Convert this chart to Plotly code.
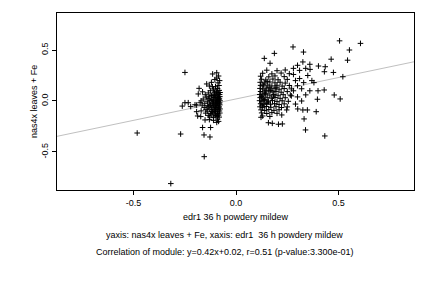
import plotly.graph_objects as go

# ---- data ----
left_sparse = [(-0.482,-0.314),(-0.318,-0.81),(-0.27,-0.324),(-0.249,0.28),(-0.262,-0.05),(-0.249,-0.017),
    (-0.233,-0.017),(-0.221,-0.055),(-0.155,-0.546),(-0.156,-0.333),(-0.127,-0.353),(-0.163,-0.26),
    (-0.124,-0.26),(-0.151,-0.186),(-0.172,-0.153),(-0.187,-0.147),(-0.192,-0.105),(-0.192,-0.04),
    (-0.163,0.09),(-0.184,0.069),(-0.18,0.124),(-0.143,0.167),(-0.115,0.14),(-0.1,0.14),(-0.103,0.21),
    (-0.094,0.225),(-0.114,0.265),(-0.094,0.277),(-0.094,-0.21),(-0.11,-0.19),(-0.085,-0.2)]

left_core = [(-0.09,0.123),(-0.11,0.118),
    (-0.082,0.104),(-0.097,0.097),(-0.125,0.101),
    (-0.078,0.083),(-0.088,0.077),(-0.105,0.086),(-0.135,0.079),
    (-0.08,0.063),(-0.093,0.057),(-0.112,0.066),(-0.12,0.054),(-0.15,0.061),
    (-0.079,0.043),(-0.086,0.036),(-0.099,0.047),(-0.108,0.034),(-0.128,0.041),(-0.145,0.038),
    (-0.081,0.022),(-0.09,0.016),(-0.102,0.027),(-0.117,0.014),(-0.133,0.023),(-0.16,0.019),
    (-0.078,0.002),(-0.087,-0.004),(-0.096,0.006),(-0.11,-0.003),(-0.122,0.004),(-0.14,-0.002),(-0.17,0.001),
    (-0.08,-0.018),(-0.092,-0.024),(-0.101,-0.016),(-0.115,-0.023),(-0.13,-0.019),(-0.152,-0.022),(-0.175,-0.017),
    (-0.079,-0.038),(-0.089,-0.044),(-0.098,-0.036),(-0.109,-0.043),(-0.124,-0.039),(-0.138,-0.046),(-0.165,-0.041),(-0.2,-0.037),
    (-0.082,-0.058),(-0.094,-0.064),(-0.106,-0.056),(-0.119,-0.062),(-0.135,-0.057),(-0.155,-0.063),
    (-0.078,-0.078),(-0.088,-0.084),(-0.1,-0.077),(-0.113,-0.083),(-0.128,-0.079),(-0.146,-0.082),
    (-0.081,-0.098),(-0.092,-0.104),(-0.104,-0.096),(-0.12,-0.103),(-0.14,-0.099),(-0.17,-0.097),
    (-0.079,-0.118),(-0.09,-0.124),(-0.107,-0.117),(-0.125,-0.122),(-0.148,-0.119),
    (-0.085,-0.138),(-0.098,-0.143),(-0.118,-0.137),(-0.135,-0.141),
    (-0.082,-0.158),(-0.11,-0.163),(-0.128,-0.157),
    (-0.09,-0.178),(-0.13,-0.183),
    (-0.083,0.152),(-0.13,0.147),(-0.088,0.178),(-0.12,0.183),(-0.08,0.2),(-0.085,0.245),
    (-0.084,0.013),(-0.095,-0.009),(-0.083,-0.028),(-0.085,-0.068),(-0.087,0.068),(-0.096,0.088),
    (-0.1,-0.128),(-0.093,-0.151),(-0.106,0.052),(-0.114,-0.109)]

right_core = [(0.15,0.302),(0.2,0.297),(0.24,0.304),
    (0.13,0.272),(0.175,0.266),(0.22,0.274),(0.26,0.268),
    (0.12,0.243),(0.16,0.237),(0.19,0.246),(0.235,0.239),
    (0.125,0.213),(0.145,0.206),(0.18,0.215),(0.205,0.208),(0.25,0.212),
    (0.118,0.183),(0.14,0.177),(0.165,0.186),(0.19,0.178),(0.215,0.184),(0.24,0.176),
    (0.12,0.153),(0.135,0.147),(0.155,0.156),(0.175,0.148),(0.2,0.154),(0.225,0.146),(0.26,0.152),
    (0.117,0.123),(0.13,0.117),(0.15,0.126),(0.17,0.118),(0.19,0.124),(0.21,0.116),(0.235,0.122),(0.27,0.119),
    (0.12,0.093),(0.138,0.087),(0.16,0.096),(0.18,0.088),(0.195,0.094),(0.22,0.086),(0.25,0.092),
    (0.116,0.063),(0.128,0.057),(0.145,0.066),(0.165,0.058),(0.185,0.064),(0.205,0.056),(0.23,0.062),(0.265,0.058),
    (0.118,0.033),(0.133,0.027),(0.152,0.036),(0.172,0.028),(0.19,0.034),(0.215,0.026),(0.24,0.032),
    (0.115,0.003),(0.126,-0.003),(0.14,0.006),(0.158,-0.002),(0.178,0.004),(0.2,-0.004),(0.225,0.002),(0.255,-0.003),
    (0.12,-0.027),(0.135,-0.033),(0.15,-0.024),(0.168,-0.032),(0.188,-0.026),(0.21,-0.034),(0.235,-0.028),
    (0.117,-0.057),(0.13,-0.063),(0.148,-0.054),(0.17,-0.062),(0.195,-0.056),(0.222,-0.064),(0.25,-0.058),
    (0.122,-0.087),(0.14,-0.093),(0.16,-0.084),(0.185,-0.092),(0.21,-0.086),
    (0.125,-0.117),(0.15,-0.123),(0.175,-0.114),(0.2,-0.121),
    (0.13,-0.147),(0.165,-0.152),
    (0.125,0.045),(0.142,0.075),(0.137,0.015),(0.155,-0.012),(0.128,-0.042),(0.145,0.105),
    (0.162,0.135),(0.183,0.048),(0.17,0.102),(0.195,0.135),(0.132,0.165),(0.152,0.192)]

right_sparse = [(0.505,0.59),(0.607,0.565),(0.553,0.5),(0.544,0.40),(0.464,0.41),(0.278,0.53),
    (0.329,0.48),(0.187,0.467),(0.138,0.418),(0.166,0.37),(0.521,0.238),(0.475,0.28),(0.431,0.287),
    (0.435,0.336),(0.402,0.343),(0.361,0.31),(0.43,0.108),(0.479,0.059),(0.508,0.02),(0.433,-0.343),
    (0.397,0.017),(0.391,-0.105),(0.348,-0.088),(0.326,-0.088),(0.339,-0.284),(0.332,-0.176),
    (0.301,-0.078),(0.226,-0.225),(0.207,-0.228),(0.177,-0.219),(0.158,-0.213),(0.122,-0.16),
    (0.223,-0.137),(0.247,-0.088),
    (0.28,0.26),(0.29,0.2),(0.3,0.15),(0.31,0.22),(0.32,0.12),(0.33,0.18),(0.34,0.06),(0.35,0.25),
    (0.36,0.1),(0.3,0.04),(0.28,0.1),(0.27,0.05),(0.32,0.0),(0.29,-0.03),(0.37,0.2),(0.31,0.3),
    (0.34,0.32),(0.3,0.35),(0.36,0.36),(0.326,0.383),(0.38,0.18),(0.4,0.1),(0.28,0.32)]

points = left_sparse + left_core + right_core + right_sparse
x_vals = [p[0] for p in points]
y_vals = [p[1] for p in points]

slope, intercept = 0.42, 0.02
x_range = [-0.873, 0.868]
y_range = [-0.873, 0.863]
tick_vals = [-0.5, 0.0, 0.5]
tick_text = ["-0.5", "0.0", "0.5"]

FONT = "Liberation Sans, Arial, sans-serif"

fig = go.Figure()
fig.add_trace(go.Scatter(
    x=x_range, y=[slope * v + intercept for v in x_range], mode="lines",
    line=dict(color="#c0c0c0", width=1), hoverinfo="skip"))
fig.add_trace(go.Scatter(
    x=x_vals, y=y_vals, mode="markers",
    marker=dict(symbol="cross-thin", size=4, line=dict(color="black", width=1))))

axis_common = dict(showgrid=False, zeroline=False, showline=True, linecolor="black", linewidth=1,
                   mirror=True, ticks="outside", ticklen=4, tickcolor="black",
                   tickvals=tick_vals, ticktext=tick_text,
                   tickfont=dict(family=FONT, size=9, color="black"))
fig.update_xaxes(range=x_range, **axis_common)
fig.update_yaxes(range=y_range, tickangle=-90, **axis_common)

fig.update_layout(
    width=432, height=288, showlegend=False,
    margin=dict(l=57, r=18, t=13, b=98),
    plot_bgcolor="white", paper_bgcolor="white",
    font=dict(family=FONT, size=9, color="black"),
    annotations=[
        dict(text="edr1 36 h powdery mildew", xref="paper", yref="paper", x=0.5, y=-0.15,
             showarrow=False, xanchor="center", yanchor="middle"),
        dict(text="nas4x leaves + Fe", xref="paper", yref="paper", x=-0.06, y=0.5, textangle=-90,
             showarrow=False, xanchor="center", yanchor="middle", xshift=-2),
        dict(text="yaxis: nas4x leaves + Fe, xaxis: edr1  36 h powdery mildew", xref="paper", yref="paper",
             x=0.47, y=-0.255, showarrow=False, xanchor="center", yanchor="middle"),
        dict(text="Correlation of module: y=0.42x+0.02, r=0.51 (p-value:3.300e-01)", xref="paper", yref="paper",
             x=0.47, y=-0.35, showarrow=False, xanchor="center", yanchor="middle"),
    ])

fig.write_html("out.html")
